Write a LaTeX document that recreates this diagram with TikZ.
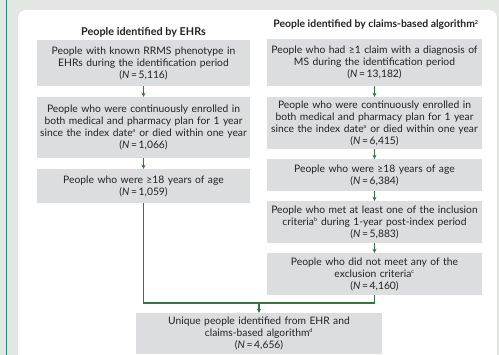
\documentclass[tikz,border=0pt]{standalone}
\usepackage{fontspec}
\setmainfont{Lato}
\usetikzlibrary{arrows.meta}
\definecolor{bgc}{HTML}{E2E7E1}
\definecolor{teal1}{HTML}{17897A}
\definecolor{boxg}{HTML}{DCDDDE}
\definecolor{arrg}{HTML}{2E7A3C}
\definecolor{txt}{HTML}{222222}
\tikzset{
  fbox/.style={fill=boxg, draw=none, align=center, inner sep=0pt, text=txt,
    font=\fontsize{10.3}{12}\selectfont},
  lbox/.style={fbox, minimum width=213pt, text width=212pt},
  rbox/.style={fbox, minimum width=215pt, text width=214pt},
  hdr/.style={font=\fontsize{10.8}{12}\selectfont\bfseries, text=txt, inner sep=0pt},
  conn/.style={draw=arrg, line width=1.1pt},
  arr/.style={conn, -{Stealth[length=4pt,width=4pt]}},
}
\newcommand{\Nv}[1]{(\textit{N}\,=\,#1)}
\newcommand{\sups}[1]{\textsuperscript{\fontsize{5.5}{5.5}\selectfont #1}}
\begin{document}
\begin{tikzpicture}[x=1pt,y=-1pt]
\useasboundingbox (0,0) rectangle (499,355);
\fill[bgc] (0,0) rectangle (499,355);
\draw[teal1, line width=1.2pt] (6.5,0) -- (6.5,355);
\fill[white, rounded corners=8pt] (18,10) rectangle (497,375);
\draw[black!12, line width=0.5pt] (497.5,18) -- (497.5,355);
% headers
\node[hdr] (hl) at (143.5,32) {People identified by EHRs};
\node[hdr, font=\fontsize{10.4}{12}\selectfont\bfseries] (hr) at (376,25) {People identified by claims-based algorithm\sups{2}};
% left column
\node[lbox, minimum height=46pt] (L1) at (143.5,63) {People with known RRMS phenotype in\\EHRs during the identification period\\\Nv{5,116}};
\node[lbox, minimum height=61pt] (L2) at (143.5,127.5) {People who were continuously enrolled in\\both medical and pharmacy plan for 1 year\\since the index date\sups{a} or died within one year\\\Nv{1,066}};
\node[lbox, minimum height=34pt] (L3) at (143.5,186) {People who were ≥18 years of age\\\Nv{1,059}};
% right column
\node[rbox, minimum height=47pt] (R1) at (374.5,62.5) {People who had ≥1 claim with a diagnosis of\\MS during the identification period\\\Nv{13,182}};
\node[rbox, minimum height=52pt] (R2) at (374.5,123) {People who were continuously enrolled in\\both medical and pharmacy plan for 1 year\\since the index date\sups{a} or died within one year\\\Nv{6,415}};
\node[rbox, minimum height=32pt] (R3) at (374.5,175) {People who were ≥18 years of age\\\Nv{6,384}};
\node[rbox, minimum height=42pt] (R4) at (374.5,222) {People who met at least one of the inclusion\\criteria\sups{b} during 1-year post-index period\\\Nv{5,883}};
\node[rbox, minimum height=42pt] (R5) at (374.5,274) {People who did not meet any of the\\exclusion criteria\sups{c}\\\Nv{4,160}};
% final
\node[fbox, minimum width=246pt, text width=244pt, minimum height=41pt] (F) at (259,333.5) {Unique people identified from EHR and\\claims-based algorithm\sups{d}\\\Nv{4,656}};
% arrows
\draw[arr] (L1) -- (L2);
\draw[arr] (L2) -- (L3);
\draw[arr] (R1) -- (R2);
\draw[arr] (R2) -- (R3);
\draw[arr] (R3) -- (R4);
\draw[arr] (R4) -- (R5);
\coordinate (m) at (259,303);
\draw[conn] (L3.south) |- (m) -| (R5.south);
\draw[arr] (m) -- (F.north);
\end{tikzpicture}
\end{document}
